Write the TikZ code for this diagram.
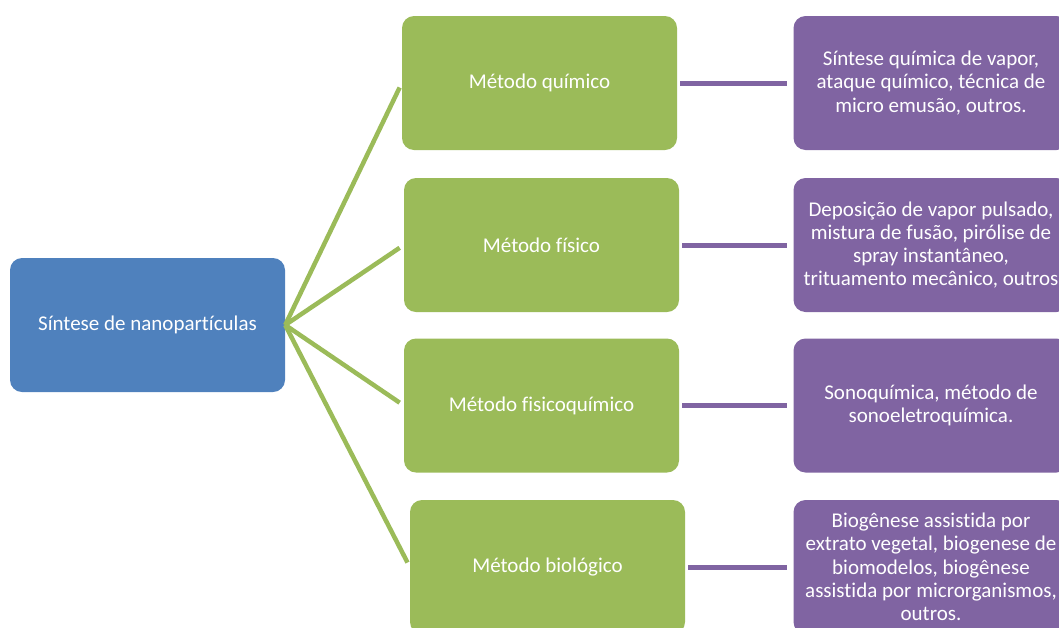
\documentclass[tikz,border=0pt]{standalone}
\usepackage{fontspec}
\setmainfont{Carlito}[Ligatures=NoCommon]
\usepackage{xcolor}

\definecolor{rootblue}{HTML}{4F81BD}
\definecolor{methodgreen}{HTML}{9BBB59}
\definecolor{detailpurple}{HTML}{8064A2}

\begin{document}
\begin{tikzpicture}[x=1pt, y=-1pt,
    box/.style={rounded corners=12pt, minimum width=275pt, minimum height=134pt,
        text=white, font=\fontsize{21}{23.3}\selectfont, align=center, inner sep=0pt},
    rootbox/.style={box, fill=rootblue},
    methodbox/.style={box, fill=methodgreen},
    detailbox/.style={box, fill=detailpurple},
    greenline/.style={methodgreen, line width=4.5pt, shorten >=5pt},
    purpleline/.style={detailpurple, line width=5pt, shorten <=3pt, shorten >=6pt}]

    \useasboundingbox (0,0) rectangle (1059,627);
    \clip (0,0) rectangle (1059,627);

    % Draw the root
    \node[rootbox] (root) at (147.5,325) {Síntese de nanopartículas};

    % Draw the methods
    \node[methodbox] (quimico) at (539.5,83) {Método químico};
    \node[methodbox] (fisico) at (541.5,245) {Método físico};
    \node[methodbox] (fisqui) at (541.5,405.5) {Método fisicoquímico};
    \node[methodbox] (bio) at (547.5,567) {Método biológico};

    % Draw the details
    \node[detailbox] (dquimico) at (931,83) {Síntese química de vapor,\\ataque químico, técnica de\\micro emusão, outros.};
    \node[detailbox] (dfisico) at (931,245) {Deposição de vapor pulsado,\\mistura de fusão, pirólise de\\spray instantâneo,\\trituamento mecânico, outros};
    \node[detailbox] (dfisqui) at (931,405.5) {Sonoquímica, método de\\sonoeletroquímica.};
    \node[detailbox] (dbio) at (931,567) {Biogênese assistida por\\extrato vegetal, biogenese de\\biomodelos, biogênese\\assistida por microrganismos,\\outros.};

    % Connect root to methods
    \foreach \m in {quimico, fisico, fisqui, bio} {
        \draw[greenline] (root.east) -- (\m.west);
    }

    % Connect methods to details
    \draw[purpleline] (quimico.east) -- (dquimico.west);
    \draw[purpleline] (fisico.east) -- (dfisico.west);
    \draw[purpleline] (fisqui.east) -- (dfisqui.west);
    \draw[purpleline] (bio.east) -- (dbio.west);

\end{tikzpicture}
\end{document}
